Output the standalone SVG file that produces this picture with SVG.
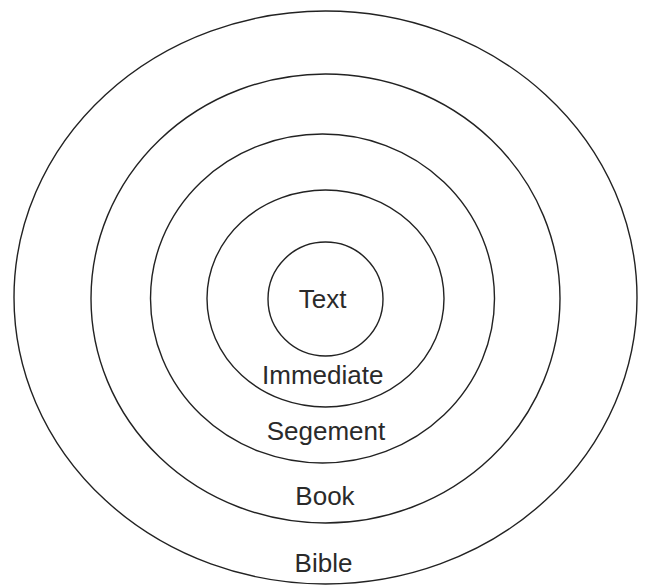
<svg xmlns="http://www.w3.org/2000/svg" width="645" height="586" viewBox="0 0 645 586">
<style>
.ring{fill:none;stroke:#222;stroke-width:1.4}
.lbl{font-family:"Liberation Sans",Arial,sans-serif;font-size:26px;fill:#2a2a2a;text-anchor:middle}
</style>
<rect width="645" height="586" fill="#fff"/>
<g id="bible"><ellipse class="ring" cx="325.5" cy="297.5" rx="311.5" ry="286.5"/><text class="lbl" x="323.5" y="571.5">Bible</text></g>
<g id="book"><ellipse class="ring" cx="325.5" cy="298.5" rx="234.5" ry="224.5"/><text class="lbl" x="325" y="505">Book</text></g>
<g id="segement"><ellipse class="ring" cx="322.5" cy="298.5" rx="172" ry="164.5"/><text class="lbl" x="326" y="440">Segement</text></g>
<g id="immediate"><ellipse class="ring" cx="325.5" cy="298.5" rx="118.5" ry="108.5"/><text class="lbl" x="322.7" y="384">Immediate</text></g>
<g id="text"><ellipse class="ring" cx="325.5" cy="299" rx="57.5" ry="57"/><text class="lbl" x="322.7" y="308">Text</text></g>
<g id="connectors"/>
</svg>
